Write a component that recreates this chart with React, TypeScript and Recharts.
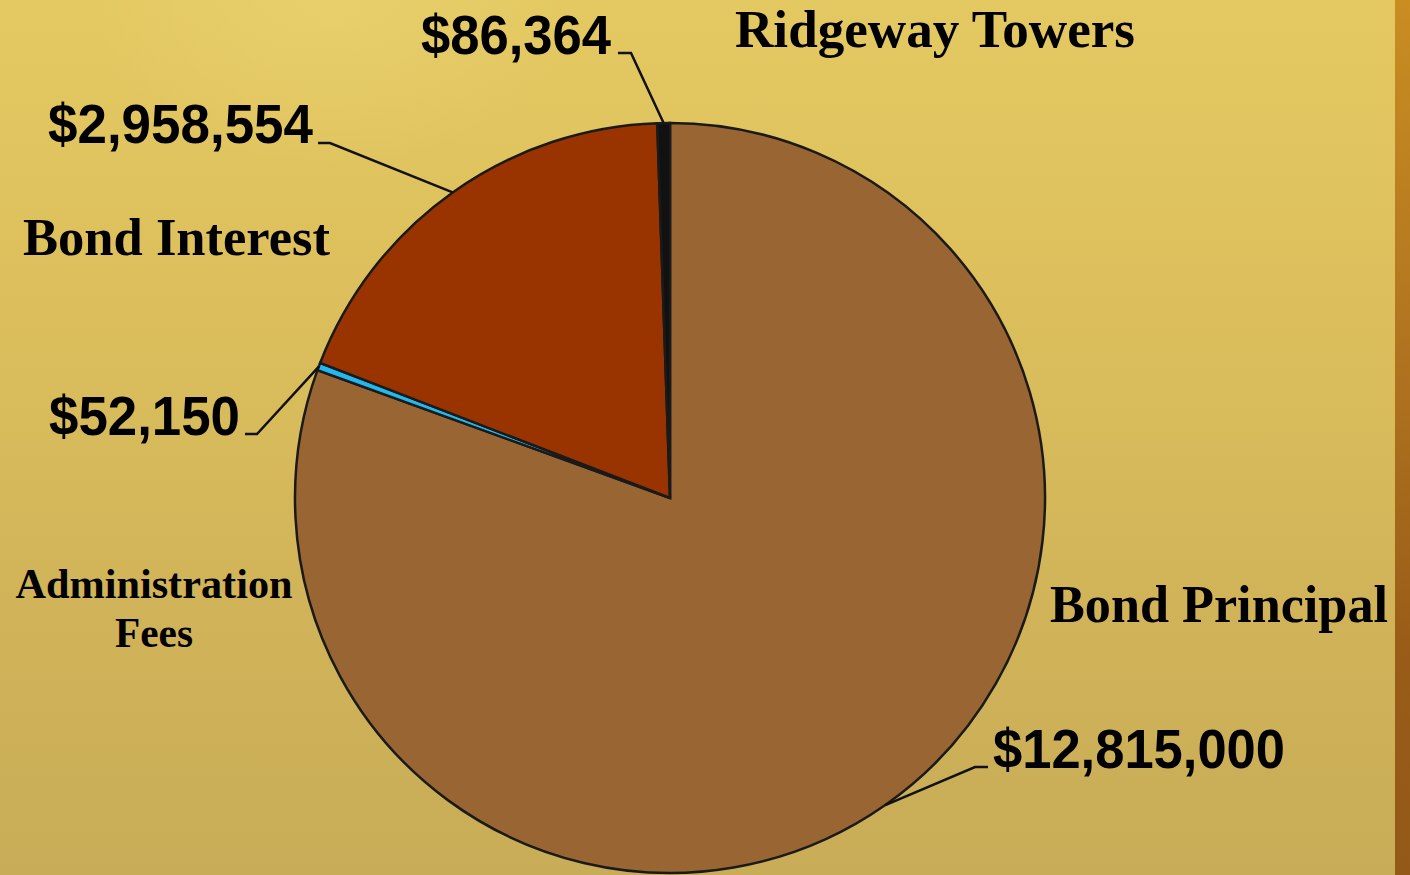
import React from 'react';
import { PieChart, Pie, Cell } from 'recharts';

// ---- data ----
const categories = ['Bond Principal', 'Administration Fees', 'Bond Interest', 'Ridgeway Towers'];
const amounts = [12815000, 52150, 2958554, 86364];
const valueLabels = ['$12,815,000', '$52,150', '$2,958,554', '$86,364'];
const nameLines = [['Bond Principal'], ['Administration', 'Fees'], ['Bond Interest'], ['Ridgeway Towers']];

// ---- styles / layout ----
const sliceColors = ['#996633', '#22b8f0', '#993300', '#111111'];

type Layout = {
  elbow: [number, number];
  end: [number, number];
  valX: number;
  valY: number;
  valAnchor: 'start' | 'end' | 'middle';
  valW: number;
  nameX: number;
  nameY: number;
  nameAnchor: 'start' | 'end' | 'middle';
  nameSize: number;
  nameW: number[];
  lineGap: number;
};

const labelLayout: Layout[] = [
  { elbow: [975, 767], end: [988, 767], valX: 993, valY: 768, valAnchor: 'start', valW: 292, nameX: 1050, nameY: 622, nameAnchor: 'start', nameSize: 52, nameW: [338], lineGap: 0 },
  { elbow: [257, 434], end: [245, 434], valX: 240, valY: 435, valAnchor: 'end', valW: 191, nameX: 154, nameY: 598, nameAnchor: 'middle', nameSize: 42, nameW: [277, 78], lineGap: 49 },
  { elbow: [330, 143], end: [318, 143], valX: 313, valY: 143, valAnchor: 'end', valW: 265, nameX: 23, nameY: 255, nameAnchor: 'start', nameSize: 52, nameW: [307], lineGap: 0 },
  { elbow: [631, 53], end: [618, 53], valX: 611, valY: 54, valAnchor: 'end', valW: 190, nameX: 735, nameY: 47, nameAnchor: 'start', nameSize: 52, nameW: [400], lineGap: 0 },
];

const chartData = categories.map((c, i) => ({ name: c, value: amounts[i] }));

const RAD = Math.PI / 180;

const renderLabel = (props: any) => {
  const { cx, cy, midAngle, outerRadius, index } = props;
  const L = labelLayout[index];
  if (!L) return null;
  const sx = cx + outerRadius * Math.cos(-midAngle * RAD);
  const sy = cy + outerRadius * Math.sin(-midAngle * RAD);
  const pts = `${sx},${sy} ${L.elbow[0]},${L.elbow[1]} ${L.end[0]},${L.end[1]}`;
  return (
    <g key={`lbl-${index}`}>
      <polyline points={pts} fill="none" stroke="#111" strokeWidth={2.5} />
      <text
        x={L.valX}
        y={L.valY}
        textAnchor={L.valAnchor}
        fontFamily="'Liberation Sans', Arial, sans-serif"
        fontWeight="bold"
        fontSize={56}
        fill="#000"
        textLength={L.valW}
        lengthAdjust="spacingAndGlyphs"
      >
        {valueLabels[index]}
      </text>
      {nameLines[index].map((line, j) => (
        <text
          key={j}
          x={L.nameX}
          y={L.nameY + j * L.lineGap}
          textAnchor={L.nameAnchor}
          fontFamily="'Liberation Serif', 'Times New Roman', serif"
          fontWeight="bold"
          fontSize={L.nameSize}
          fill="#000"
          textLength={L.nameW[j]}
          lengthAdjust="spacingAndGlyphs"
        >
          {line}
        </text>
      ))}
    </g>
  );
};

export default function App() {
  return (
    <div
      style={{
        position: 'absolute',
        left: 0,
        top: 0,
        width: 1410,
        height: 875,
        overflow: 'hidden',
        background: 'linear-gradient(180deg, #e4c962 0%, #dcbf5c 35%, #d2b559 65%, #c8ac57 100%)',
      }}
    >
      <div
        style={{
          position: 'absolute',
          left: 0,
          top: 0,
          width: 1410,
          height: 875,
          background:
            'radial-gradient(ellipse 240px 160px at 330px 10px, rgba(255,240,160,0.16), rgba(255,240,160,0) 100%)',
        }}
      />
      <div
        style={{
          position: 'absolute',
          left: 1395,
          top: 0,
          width: 15,
          height: 875,
          background: 'linear-gradient(180deg, #c98d22 0%, #b07420 40%, #985c18 75%, #935918 100%)',
        }}
      />
      <div style={{ position: 'absolute', left: 0, top: 0 }}>
        <PieChart width={1410} height={875} margin={{ top: 0, right: 0, bottom: 0, left: 0 }}>
          <Pie
            data={chartData}
            dataKey="value"
            nameKey="name"
            cx={670}
            cy={498}
            outerRadius={375}
            startAngle={90}
            endAngle={-270}
            stroke="#1a1a1a"
            strokeWidth={2.5}
            label={renderLabel}
            labelLine={false}
            isAnimationActive={false}
          >
            {chartData.map((d, i) => (
              <Cell key={d.name} fill={sliceColors[i]} />
            ))}
          </Pie>
        </PieChart>
      </div>
    </div>
  );
}
